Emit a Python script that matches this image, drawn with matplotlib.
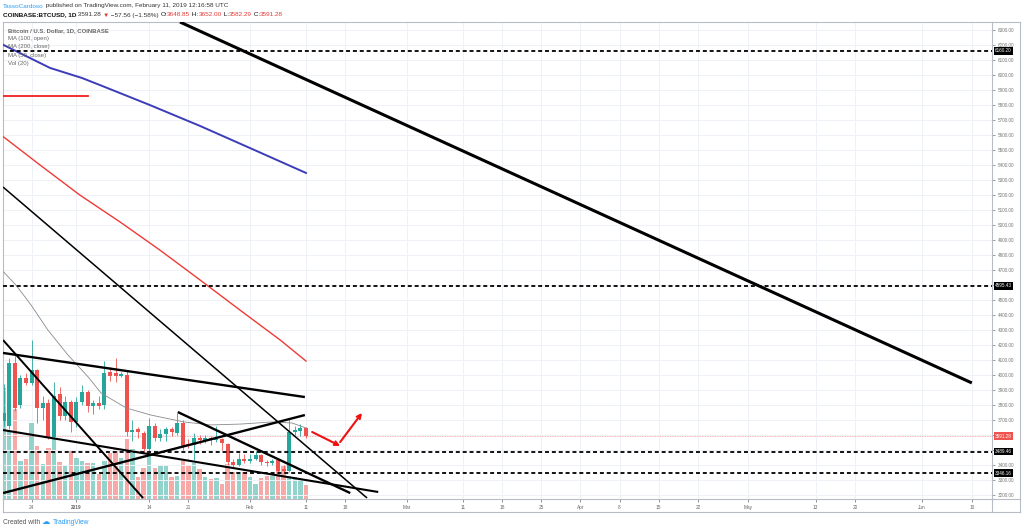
import matplotlib
matplotlib.use('Agg')
import matplotlib.pyplot as plt
import matplotlib.dates as mdates
import matplotlib.transforms as mtransforms
from matplotlib.lines import Line2D
import pandas as pd

plt.rcParams['font.family'] = ['Liberation Sans', 'DejaVu Sans']

W, H = 1024, 531

# ---------------- data ----------------
dates = pd.date_range('2018-12-19', '2019-02-11', freq='D')
opens = [3690, 3660, 4078, 3800, 3978, 3944, 4033, 3778, 3811, 3589, 3870, 3725, 3822,
         3689, 3822, 3889, 3790, 3815, 3800, 4020, 4011, 3995, 4000, 3620, 3640, 3611,
         3505, 3660, 3578, 3607, 3638, 3610, 3682, 3540, 3533, 3580, 3560, 3580, 3565,
         3570, 3540, 3420, 3400, 3440, 3425, 3440, 3467, 3418, 3410, 3433, 3375,
         3360, 3622, 3628, 3648.85]
highs = [3940, 4110, 4145, 4000, 4010, 4236, 4040, 3860, 3840, 3956, 3920, 3860, 3835,
         3850, 3930, 3900, 3835, 3860, 4090, 4050, 4111, 4020, 4030, 3700, 3650, 3625,
         3710, 3680, 3640, 3650, 3650, 3745, 3700, 3570, 3610, 3600, 3600, 3590, 3660,
         3580, 3545, 3440, 3480, 3470, 3470, 3490, 3475, 3430, 3440, 3440, 3400,
         3705, 3660, 3670, 3652.00]
lows = [3657, 3640, 3760, 3780, 3930, 3935, 3680, 3700, 3570, 3570, 3700, 3700, 3622,
        3650, 3800, 3750, 3740, 3770, 3770, 3960, 3950, 3985, 3590, 3560, 3580, 3480,
        3490, 3560, 3560, 3560, 3590, 3600, 3500, 3510, 3433, 3540, 3545, 3530, 3555,
        3500, 3400, 3385, 3395, 3410, 3410, 3430, 3400, 3395, 3400, 3350, 3345,
        3350, 3600, 3595, 3582.29]
closes = [3745, 4078, 3780, 3978, 3944, 4033, 3778, 3811, 3589, 3860, 3725, 3822, 3689,
          3822, 3889, 3790, 3815, 3793, 4011, 3996, 3993, 4005, 3622, 3635, 3620, 3505,
          3660, 3578, 3607, 3638, 3618, 3682, 3522, 3525, 3578, 3565, 3580, 3565, 3570,
          3545, 3420, 3400, 3440, 3425, 3440, 3467, 3418, 3410, 3428, 3358, 3360,
          3622, 3632, 3648.85, 3591.28]
volumes_k = [27.8, 17.0, 22.5, 9.5, 10.0, 19.0, 13.3, 8.8, 12.8, 15.3, 9.3, 8.3, 12.3,
             10.3, 9.5, 9.0, 9.0, 6.3, 9.5, 11.5, 12.8, 10.3, 15.0, 12.5, 5.5, 7.8,
             11.3, 7.8, 8.3, 8.3, 5.5, 5.8, 9.5, 8.3, 9.0, 7.5, 5.5, 5.0, 5.3,
             3.8, 8.8, 6.8, 6.8, 6.8, 5.5, 3.8, 5.3, 5.8, 5.8, 9.0, 8.3,
             5.8, 5.5, 5.0, 3.5]

# moving averages (day offset from 2019-02-11, value)
ma100_days = [-54, -45.7, -40, -36.8, -27.9, -18.9, -10, 0]
ma100_vals = [6200, 6047, 5980, 5933, 5800, 5660, 5513, 5347]
ma200_days = [-54, -47.5, -40.4, -33.2, -26.1, -18.9, -11.8, -4.6, 0]
ma200_vals = [5587, 5400, 5200, 5020, 4833, 4633, 4433, 4233, 4093]
ma50_days = [-54, -51.8, -49.1, -46.1, -42.5, -38.9, -36.6, -32.1, -27.7, -21.8, -17.0,
             -11.6, -6.1, -2.5, 0]
ma50_vals = [4687, 4600, 4467, 4300, 4133, 3987, 3880, 3780, 3733, 3687, 3667,
             3673, 3687, 3680, 3647]

# horizontal levels
level_prices = [6160.20, 4595.43, 3489.46, 3346.16]
last_price = 3591.28

# trend lines: (day0, price0, day1, price1, width)
trend_lines = [
    (-22.5, 6353, 118.9, 3947, 2.2),
    (-54.1, 5253, 10.9, 3180, 1.1),
    (-54.1, 4233, -29.1, 3180, 1.4),
    (-54.1, 4147, -0.2, 3853, 1.7),
    (-54.1, 3633, 12.9, 3220, 1.5),
    (-54.1, 3213, -0.2, 3733, 1.7),
    (-22.9, 3753, 7.9, 3213, 1.7),
]
red_hline = (-54.1, -38.9, 5860)
red_arrows = [(1.1, 3620, 6.1, 3527), (6.1, 3553, 10.0, 3747)]

tick_dates = ['2018-12-24', '2019-01-01', '2019-01-14', '2019-01-21', '2019-02-01',
              '2019-02-11', '2019-02-18', '2019-03-01', '2019-03-11', '2019-03-18',
              '2019-03-25', '2019-04-01', '2019-04-08', '2019-04-15', '2019-04-22',
              '2019-05-01', '2019-05-13', '2019-05-20', '2019-06-01', '2019-06-10']
tick_labels = ['24', '2019', '14', '21', 'Feb', '11', '18', 'Mar', '11', '18', '25',
               'Apr', '8', '15', '22', 'May', '13', '20', 'Jun', '10']
price_ticks = list(range(3200, 6301, 100))

# ---------------- styling ----------------
UP = '#26a69a'
DN = '#ef5350'
UPV = '#92d3cc'
DNV = '#f7a9a7'
GRID = '#eef1f6'
FRAME = '#b8bcc4'

fig = plt.figure(figsize=(W / 100, H / 100), dpi=100)
fig.patch.set_facecolor('white')

def fx(px):
    return px / W

def fy(py):
    return 1 - py / H

L, R, T, B = 3, 992, 22, 499
rect = [fx(L), fy(B), fx(R) - fx(L), fy(T) - fy(B)]
ax2 = fig.add_axes(rect)
ax = fig.add_axes(rect)
ax.set_zorder(ax2.get_zorder() + 1)
ax.patch.set_visible(False)

xn = mdates.date2num(dates.to_pydatetime())
base = mdates.date2num(pd.Timestamp('2019-02-11').to_pydatetime())
xlim = (base - 54.107, base + 122.5)
ax.set_xlim(*xlim)
ax2.set_xlim(*xlim)
ax.set_ylim(3173.3, 6353.3)
ax2.set_ylim(0, 477 * 0.25)

tick_nums = [mdates.date2num(pd.Timestamp(d).to_pydatetime()) for d in tick_dates]

# grid
for t in tick_nums:
    ax2.axvline(t, color=GRID, lw=0.7, zorder=0)
for p in price_ticks:
    ax.axhline(p, color=GRID, lw=0.7, zorder=0)

# volume
vcols = [UPV if c >= o else DNV for o, c in zip(opens, closes)]
ax2.bar(xn, volumes_k, width=0.8, color=vcols, zorder=1)
ax2.set_xticks([])
ax2.set_yticks([])
for s in ax2.spines.values():
    s.set_visible(False)

# candles
for x, o, h, l, c in zip(xn, opens, highs, lows, closes):
    col = UP if c >= o else DN
    ax.vlines(x, l, h, color=col, lw=0.6, zorder=3)
    ax.bar(x, max(abs(c - o), 4), bottom=min(o, c), width=0.68, color=col, zorder=3)

# moving averages
ax.plot([base + d for d in ma100_days], ma100_vals, color='#3c3cb8', lw=1.4, zorder=4)
ax.plot([base + d for d in ma200_days], ma200_vals, color='#f03a36', lw=1.0, zorder=4)
ax.plot([base + d for d in ma50_days], ma50_vals, color='#8a8a8a', lw=0.6, zorder=4)

# levels
for p in level_prices:
    ax.axhline(p, color='black', lw=1.3, ls=(0, (2.2, 1.6)), zorder=5)
ax.axhline(last_price, color=DN, lw=0.6, ls=(0, (1, 1)), alpha=0.6, zorder=2)

# trend lines
for d0, p0, d1, p1, w in trend_lines:
    ax.plot([base + d0, base + d1], [p0, p1], color='black', lw=w, zorder=6,
            solid_capstyle='butt')
ax.plot([base + red_hline[0], base + red_hline[1]], [red_hline[2]] * 2, color='#f02020', lw=1.3, zorder=6)
for d0, p0, d1, p1 in red_arrows:
    ax.annotate('', xy=(base + d1, p1), xytext=(base + d0, p0),
                arrowprops=dict(arrowstyle='->', color='#f01010', lw=1.5, mutation_scale=7,
                                shrinkA=0, shrinkB=0), zorder=7)

# axes ticks
ax.set_xticks(tick_nums)
ax.set_xticklabels(tick_labels)
ax.tick_params(axis='x', labelsize=3.4, length=2, width=0.5, pad=2, colors='#666666')
for lbl in ax.get_xticklabels():
    if lbl.get_text() == '2019':
        lbl.set_fontweight('bold')
ax.yaxis.tick_right()
ax.set_yticks(price_ticks)
boxed = level_prices + [last_price]
ax.set_yticklabels(['' if min(abs(p - b) for b in boxed) < 35 else '%.2f' % p
                    for p in price_ticks])
ax.tick_params(axis='y', labelsize=3.3, length=2, width=0.5, pad=2, colors='#777777')
for s in ax.spines.values():
    s.set_color(FRAME)
    s.set_linewidth(0.8)

# price labels on axis
tr = mtransforms.blended_transform_factory(ax.transAxes, ax.transData)
for p in level_prices:
    ax.text(1.0 + 3 / 989, p, '%.2f' % p, transform=tr, ha='left', va='center', fontsize=3.3,
            color='white', zorder=10, clip_on=False,
            bbox=dict(boxstyle='square,pad=0.3', fc='black', ec='none'))
ax.text(1.0 + 3 / 989, last_price, '%.2f' % last_price, transform=tr, ha='left', va='center',
        fontsize=3.3, color='white', zorder=10, clip_on=False,
        bbox=dict(boxstyle='square,pad=0.3', fc=DN, ec='none'))

# outer frame
def fline(x0, y0, x1, y1):
    fig.add_artist(Line2D([fx(x0), fx(x1)], [fy(y0), fy(y1)], color=FRAME, lw=0.8))
fline(1020, 22, 1020, 512)
fline(992, 22, 1020, 22)
fline(3, 512, 1020, 512)
fline(3, 499, 3, 512)
fline(992, 499, 992, 512)
fline(992, 499, 1020, 499)

# header text
renderer = fig.canvas.get_renderer()

def advance(s, size, wt):
    t1 = fig.text(0, 0, '|' + s + '|', fontsize=size, fontweight=wt)
    t2 = fig.text(0, 0, '||', fontsize=size, fontweight=wt)
    w = t1.get_window_extent(renderer=renderer).width - t2.get_window_extent(renderer=renderer).width
    t1.remove()
    t2.remove()
    return w

def segs(x, y, pieces, size):
    for txt, col, wt in pieces:
        fig.text(fx(x), fy(y), txt, color=col, fontsize=size, fontweight=wt,
                 ha='left', va='center')
        x += advance(txt, size, wt)
    return x

DARK = '#333333'
RED = '#e53935'
segs(3, 6, [('TassoCardoso', '#2a9df4', 'normal'),
            (' published on TradingView.com, February 11, 2019 12:16:58 UTC', DARK, 'normal')], 4.6)
segs(3, 15, [('COINBASE:BTCUSD, 1D', '#111111', 'bold'),
             (' 3591.28 ', DARK, 'normal'), ('▼', RED, 'normal'),
             (' −57.56 (−1.58%) ', DARK, 'normal'),
             ('O:', '#111111', 'normal'), ('3648.85', RED, 'normal'),
             (' H:', '#111111', 'normal'), ('3652.00', RED, 'normal'),
             (' L:', '#111111', 'normal'), ('3582.29', RED, 'normal'),
             (' C:', '#111111', 'normal'), ('3591.28', RED, 'normal')], 4.6)

legend_items = ['Bitcoin / U.S. Dollar, 1D, COINBASE', 'MA (100, open)', 'MA (200, close)',
                'MA (50, close)', 'Vol (20)']
for i, s in enumerate(legend_items):
    fig.text(fx(8), fy(30.5 + i * 8.2), s, fontsize=4.3, color='#666666',
             fontweight='bold' if i == 0 else 'normal', ha='left', va='center', zorder=20)

x = segs(3, 522, [('Created with ', '#555555', 'normal')], 4.8)
fig.text(fx(x), fy(522), '☁', fontsize=6, color='#2a9df4', ha='left', va='center',
         family='DejaVu Sans')
segs(x + 11, 522, [('TradingView', '#2a9df4', 'normal')], 4.8)

fig.savefig('out.png', dpi=100, facecolor='white')
